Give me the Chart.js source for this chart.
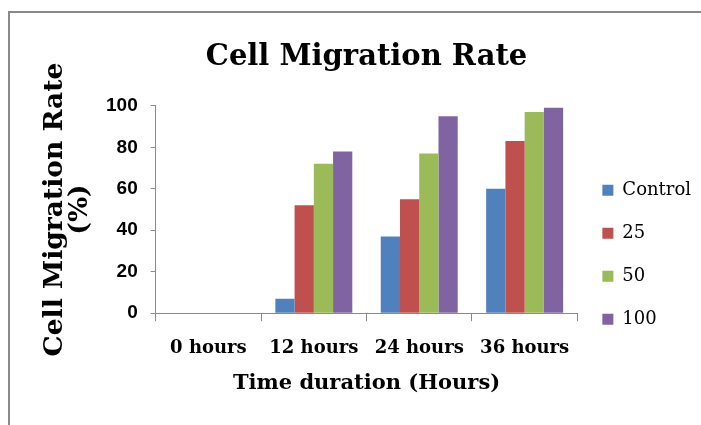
<!DOCTYPE html>
<html>
<head>
<meta charset="utf-8">
<script src="https://cdn.jsdelivr.net/npm/chart.js@4"></script>
<style>
  html, body { margin: 0; padding: 0; background: #fff; }
  #wrap { position: relative; width: 701px; height: 425px; overflow: hidden; }
  #frame {
    position: absolute; left: 8px; top: 11px; right: 0; bottom: 0;
    border-top: 2px solid #8a8a8a; border-left: 2px solid #8a8a8a;
  }
  #box { position: absolute; left: 0; top: 0; width: 701px; height: 425px; }
</style>
</head>
<body>
<div id="wrap">
  <div id="frame"></div>
  <div id="box"><canvas id="migration-chart"></canvas></div>
</div>
<script>
// dados
const categories = ['0 hours', '12 hours', '24 hours', '36 hours'];
const seriesNames = ['Control', '25', '50', '100'];
const controlValues = [0, 7, 37, 60];
const dose25Values = [0, 52, 55, 83];
const dose50Values = [0, 72, 77, 97];
const dose100Values = [0, 78, 95, 99];
const yTicks = [0, 20, 40, 60, 80, 100];

const colors = ['#4F81BD', '#C0504D', '#9BBB59', '#8064A2'];
const slab = "'DejaVu Serif', serif";

document.addEventListener('DOMContentLoaded', () => {
    const ctx = document.getElementById('migration-chart')?.getContext('2d');
    if (!ctx) return;

    const values = [controlValues, dose25Values, dose50Values, dose100Values];

    new Chart(ctx, {
        type: 'bar',
        data: {
            labels: categories,
            datasets: seriesNames.map((name, i) => ({
                label: name,
                data: values[i],
                backgroundColor: colors[i],
                borderWidth: 0,
                categoryPercentage: 0.73,
                barPercentage: 1
            }))
        },
        options: {
            responsive: true,
            maintainAspectRatio: false,
            animation: false,
            layout: { padding: 0 },
            plugins: {
                title: {
                    display: true,
                    text: 'Cell Migration Rate',
                    color: '#000',
                    fullSize: false,
                    font: { family: slab, size: 29, weight: 'bold' },
                    padding: { top: 40, bottom: 31 }
                },
                legend: {
                    position: 'right',
                    align: 'center',
                    // titre vide : sert seulement à descendre la légende
                    title: {
                        display: true,
                        text: '',
                        font: { size: 12 },
                        padding: { top: 70, bottom: 0 }
                    },
                    labels: {
                        color: '#000',
                        boxWidth: 11,
                        boxHeight: 11,
                        padding: 25,
                        font: { family: slab, size: 18 }
                    }
                },
                tooltip: { enabled: false }
            },
            scales: {
                x: {
                    grid: {
                        display: true,
                        drawOnChartArea: false,
                        offset: true,
                        tickLength: 8,
                        color: '#8a8a8a'
                    },
                    border: { color: '#8a8a8a', width: 1 },
                    ticks: {
                        color: '#000',
                        autoSkip: false,
                        maxRotation: 0,
                        padding: 16,
                        font: { family: slab, size: 18, weight: 'bold' }
                    },
                    title: {
                        display: true,
                        text: 'Time duration (Hours)',
                        color: '#000',
                        font: { family: slab, size: 21, weight: 'bold' },
                        padding: { top: -4, bottom: 29 }
                    }
                },
                y: {
                    min: 0,
                    max: 100,
                    afterBuildTicks: (axis) => {
                        axis.ticks = yTicks.map(v => ({ value: v }));
                    },
                    grid: {
                        display: true,
                        drawOnChartArea: false,
                        tickLength: 5,
                        color: '#8a8a8a'
                    },
                    border: { color: '#8a8a8a', width: 1 },
                    ticks: {
                        color: '#000',
                        padding: 13,
                        font: { family: "'Liberation Sans', Arial, sans-serif", size: 19, weight: 'bold' }
                    },
                    title: {
                        display: true,
                        text: ['Cell Migration Rate', '(%)'],
                        color: '#000',
                        font: { family: slab, size: 26.5, weight: 'bold', lineHeight: '25px' },
                        padding: { top: 43, bottom: 0 }
                    }
                }
            }
        }
    });
});
</script>
</body>
</html>
